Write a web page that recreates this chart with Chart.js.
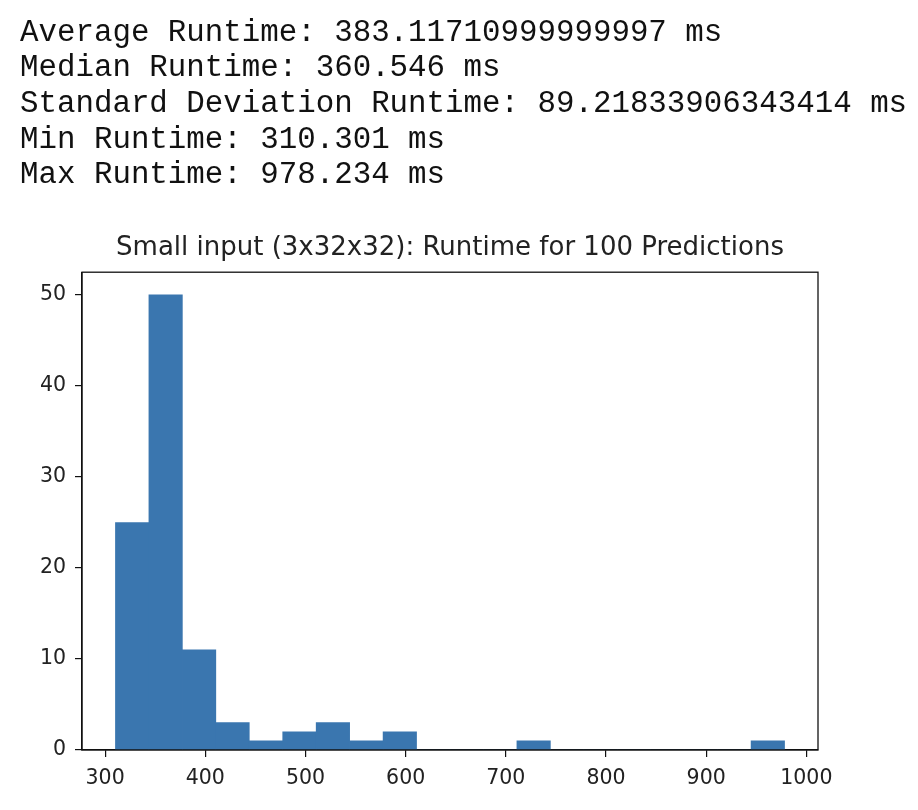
<!DOCTYPE html>
<html>
<head>
<meta charset="utf-8">
<script src="https://cdn.jsdelivr.net/npm/chart.js@4"></script>
<style>
  html, body { margin: 0; padding: 0; background: #fff; }
  #wrap { position: relative; width: 918px; height: 810px; }
  #stats {
    position: absolute; left: 20px; top: 14.7px;
    font-family: "Liberation Mono", "DejaVu Sans Mono", monospace;
    font-size: 30.8px; line-height: 35.65px; color: #111;
    white-space: pre; z-index: 2;
  }
  #hist { position: absolute; left: 0; top: 0; }
</style>
</head>
<body>
<div id="wrap">
  <div id="stats"></div>
  <canvas id="hist" width="918" height="810"></canvas>
</div>
<script>
const statLines = [
  "Average Runtime: 383.11710999999997 ms",
  "Median Runtime: 360.546 ms",
  "Standard Deviation Runtime: 89.21833906343414 ms",
  "Min Runtime: 310.301 ms",
  "Max Runtime: 978.234 ms",
];
const runtimeMin = 310.301;
const runtimeMax = 978.234;
const binCounts = [25, 50, 11, 3, 1, 2, 3, 1, 2, 0, 0, 0, 1, 0, 0, 0, 0, 0, 0, 1];
const xTicks = [300, 400, 500, 600, 700, 800, 900, 1000];
const yTicks = [0, 10, 20, 30, 40, 50];

document.getElementById("stats").textContent = statLines.join("\n");

// bin centres from the histogram range (20 equal bins)
const binWidth = (runtimeMax - runtimeMin) / binCounts.length;
const histData = binCounts.map((c, i) => ({ x: runtimeMin + (i + 0.5) * binWidth, y: c }));

// matplotlib default 5% margins
const xPad = (runtimeMax - runtimeMin) * 0.05;
const yMax = Math.max(...binCounts) * 1.05;

const framePlugin = {
  id: "frame",
  afterDraw(chart) {
    const { ctx, chartArea: a } = chart;
    ctx.save();
    ctx.strokeStyle = "#111";
    ctx.lineWidth = 1.3;
    ctx.strokeRect(a.left, a.top, a.right - a.left, a.bottom - a.top);
    ctx.restore();
  },
};

const tickFont = { family: "DejaVu Sans", size: 20.5 };

const ctx = document.getElementById("hist").getContext("2d");
const myChart = new Chart(ctx, {
  type: "bar",
  data: {
    datasets: [
      {
        data: histData,
        backgroundColor: "#3a76af",
        borderWidth: 0,
        barPercentage: 1,
        categoryPercentage: 1,
      },
    ],
  },
  options: {
    responsive: false,
    animation: false,
    layout: { padding: { left: 22, right: 100, top: 0, bottom: 0 } },
    plugins: {
      legend: { display: false },
      tooltip: { enabled: false },
      title: {
        display: true,
        fullSize: false,
        text: "Small input (3x32x32): Runtime for 100 Predictions",
        color: "#222",
        font: { family: "DejaVu Sans", size: 26, weight: "normal" },
        padding: { top: 233, bottom: 8 },
      },
    },
    scales: {
      x: {
        type: "linear",
        offset: false,
        min: runtimeMin - xPad,
        max: runtimeMax + xPad,
        afterFit: (s) => { s.height = 60; },
        afterBuildTicks: (s) => { s.ticks = xTicks.map((v) => ({ value: v })); },
        grid: { offset: false, drawOnChartArea: false, drawTicks: true, tickLength: 7, color: "#111", lineWidth: 1.2 },
        border: { display: true, color: "#111", width: 1.3 },
        ticks: { color: "#222", font: tickFont, padding: 9, maxRotation: 0, callback: (v) => String(v) },
      },
      y: {
        min: 0,
        max: yMax,
        afterFit: (s) => { s.width = 60; },
        afterBuildTicks: (s) => { s.ticks = yTicks.map((v) => ({ value: v })); },
        grid: { drawOnChartArea: false, drawTicks: true, tickLength: 7, color: "#111", lineWidth: 1.2 },
        border: { display: true, color: "#111", width: 1.3 },
        ticks: { color: "#222", font: tickFont, padding: 9 },
      },
    },
  },
  plugins: [framePlugin],
});
</script>
</body>
</html>
